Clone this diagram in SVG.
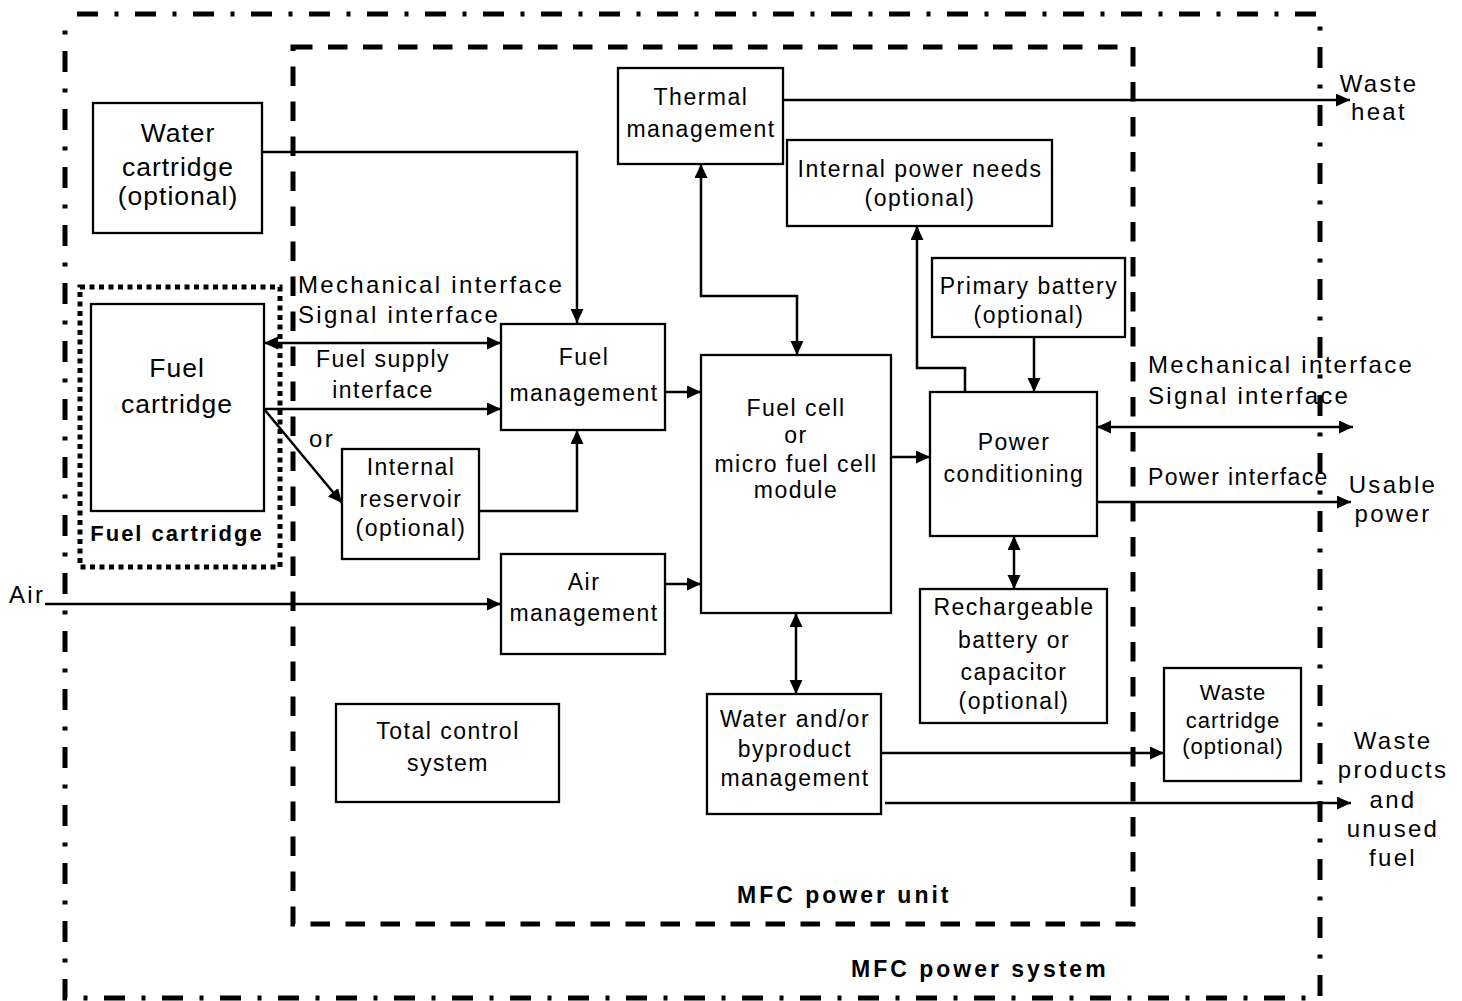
<svg xmlns="http://www.w3.org/2000/svg" width="1462" height="1001" viewBox="0 0 1462 1001">
<style>
text{font-family:"Liberation Sans",Arial,sans-serif;fill:#000}
.t{font-size:23px;letter-spacing:1.5px;text-anchor:middle}
.tc{font-size:26.5px;letter-spacing:1px;text-anchor:middle}
.ts{font-size:22px;letter-spacing:1px;text-anchor:middle}
.o{font-size:24px;letter-spacing:2.3px;text-anchor:middle}
.os{font-size:24px;letter-spacing:2.3px}
.pi{font-size:23px;letter-spacing:1.4px}
.b{font-size:23px;font-weight:bold;letter-spacing:3px}
.bf{font-size:22px;font-weight:bold;letter-spacing:2px;text-anchor:middle}
.box{fill:#fff;stroke:#000;stroke-width:2.3}
.c{fill:none;stroke:#000;stroke-width:2.5}
</style>
<defs>
<marker id="a" markerUnits="userSpaceOnUse" markerWidth="15" markerHeight="14" refX="14" refY="6.5" orient="auto-start-reverse">
<path d="M0,0 L14,6.5 L0,13 z" fill="#000"/>
</marker>
</defs>
<g id="system-border">
<rect x="65" y="14" width="1255" height="984" fill="none" stroke="#000" stroke-width="5" stroke-dasharray="21 16.5 4 16.5" stroke-dashoffset="46"/>
<text class="b" x="851" y="977">MFC power system</text>
</g>
<g id="unit-border">
<rect x="293" y="47" width="840" height="877" fill="none" stroke="#000" stroke-width="5" stroke-dasharray="19.5 15.5"/>
<text class="b" x="737" y="903">MFC power unit</text>
</g>
<g id="fuel-cartridge-group">
<rect x="80" y="287" width="200" height="280" fill="none" stroke="#000" stroke-width="5" stroke-dasharray="5 4.5"/>
<text class="bf" x="177" y="541">Fuel cartridge</text>
</g>
<g id="connectors">
<path class="c" d="M262,152 H577 V323" marker-end="url(#a)"/>
<path class="c" d="M264,343 H501" marker-start="url(#a)" marker-end="url(#a)"/>
<path class="c" d="M264,409 H501" marker-end="url(#a)"/>
<path class="c" d="M264,409 L342,503" marker-end="url(#a)"/>
<path class="c" d="M478,511 H577 V430" marker-end="url(#a)"/>
<path class="c" d="M665,392 H701" marker-end="url(#a)"/>
<path class="c" d="M45,604 H501" marker-end="url(#a)"/>
<path class="c" d="M665,584 H701" marker-end="url(#a)"/>
<path class="c" d="M701,164 V296 H797 V355" marker-start="url(#a)" marker-end="url(#a)"/>
<path class="c" d="M783,100 H1350" marker-end="url(#a)"/>
<path class="c" d="M891,457 H930" marker-end="url(#a)"/>
<path class="c" d="M965,392 V368 H917 V226" marker-end="url(#a)"/>
<path class="c" d="M1034,337 V392" marker-end="url(#a)"/>
<path class="c" d="M1097,427 H1353" marker-start="url(#a)" marker-end="url(#a)"/>
<path class="c" d="M1097,502 H1351" marker-end="url(#a)"/>
<path class="c" d="M1014,536 V589" marker-start="url(#a)" marker-end="url(#a)"/>
<path class="c" d="M796,613 V694" marker-start="url(#a)" marker-end="url(#a)"/>
<path class="c" d="M881,753 H1164" marker-end="url(#a)"/>
<path class="c" d="M885,803 H1351" marker-end="url(#a)"/>
</g>
<g id="labels">
<text class="os" x="298" y="293">Mechanical interface</text>
<text class="os" x="298" y="323">Signal interface</text>
<text class="t" x="383" y="367">Fuel supply</text>
<text class="t" x="383" y="398">interface</text>
<text class="os" x="309" y="447">or</text>
<text class="os" x="9" y="603">Air</text>
<text class="o" x="1379" y="92">Waste</text>
<text class="o" x="1379" y="120">heat</text>
<text class="os" x="1148" y="373">Mechanical interface</text>
<text class="os" x="1148" y="404">Signal interface</text>
<text class="pi" x="1148" y="485">Power interface</text>
<text class="o" x="1393" y="493">Usable</text>
<text class="o" x="1393" y="522">power</text>
<text class="o" x="1393" y="749">Waste</text>
<text class="o" x="1393" y="778">products</text>
<text class="o" x="1393" y="808">and</text>
<text class="o" x="1393" y="837">unused</text>
<text class="o" x="1393" y="866">fuel</text>
</g>
<g id="water-cartridge">
<rect class="box" x="93" y="103" width="169" height="130"/>
<text class="tc" x="178" y="142">Water</text>
<text class="tc" x="178" y="176">cartridge</text>
<text class="tc" x="178" y="205">(optional)</text>
</g>
<g id="fuel-cartridge">
<rect class="box" x="91" y="304" width="173" height="207"/>
<text class="tc" x="177" y="377">Fuel</text>
<text class="tc" x="177" y="413">cartridge</text>
</g>
<g id="internal-reservoir">
<rect class="box" x="342" y="449" width="137" height="110"/>
<text class="t" x="411" y="475">Internal</text>
<text class="t" x="411" y="507">reservoir</text>
<text class="t" x="411" y="536">(optional)</text>
</g>
<g id="fuel-management">
<rect class="box" x="501" y="324" width="164" height="106"/>
<text class="t" x="584" y="365">Fuel</text>
<text class="t" x="584" y="401">management</text>
</g>
<g id="air-management">
<rect class="box" x="501" y="554" width="164" height="100"/>
<text class="t" x="584" y="590">Air</text>
<text class="t" x="584" y="621">management</text>
</g>
<g id="total-control">
<rect class="box" x="336" y="704" width="223" height="98"/>
<text class="t" x="448" y="739">Total control</text>
<text class="t" x="448" y="771">system</text>
</g>
<g id="thermal-management">
<rect class="box" x="618" y="68" width="165" height="96"/>
<text class="t" x="701" y="105">Thermal</text>
<text class="t" x="701" y="137">management</text>
</g>
<g id="internal-power-needs">
<rect class="box" x="787" y="140" width="265" height="86"/>
<text class="t" x="920" y="177">Internal power needs</text>
<text class="t" x="920" y="206">(optional)</text>
</g>
<g id="primary-battery">
<rect class="box" x="932" y="258" width="193" height="79"/>
<text class="t" x="1029" y="294">Primary battery</text>
<text class="t" x="1029" y="323">(optional)</text>
</g>
<g id="fuel-cell">
<rect class="box" x="701" y="355" width="190" height="258"/>
<text class="t" x="796" y="416">Fuel cell</text>
<text class="t" x="796" y="443">or</text>
<text class="t" x="796" y="472">micro fuel cell</text>
<text class="t" x="796" y="498">module</text>
</g>
<g id="power-conditioning">
<rect class="box" x="930" y="392" width="167" height="144"/>
<text class="t" x="1014" y="450">Power</text>
<text class="t" x="1014" y="482">conditioning</text>
</g>
<g id="rechargeable-battery">
<rect class="box" x="920" y="589" width="187" height="134"/>
<text class="t" x="1014" y="615">Rechargeable</text>
<text class="t" x="1014" y="648">battery or</text>
<text class="t" x="1014" y="680">capacitor</text>
<text class="t" x="1014" y="709">(optional)</text>
</g>
<g id="water-byproduct-management">
<rect class="box" x="707" y="694" width="174" height="120"/>
<text class="t" x="795" y="727">Water and/or</text>
<text class="t" x="795" y="757">byproduct</text>
<text class="t" x="795" y="786">management</text>
</g>
<g id="waste-cartridge">
<rect class="box" x="1164" y="668" width="137" height="113"/>
<text class="ts" x="1233" y="700">Waste</text>
<text class="ts" x="1233" y="728">cartridge</text>
<text class="ts" x="1233" y="754">(optional)</text>
</g>
</svg>
